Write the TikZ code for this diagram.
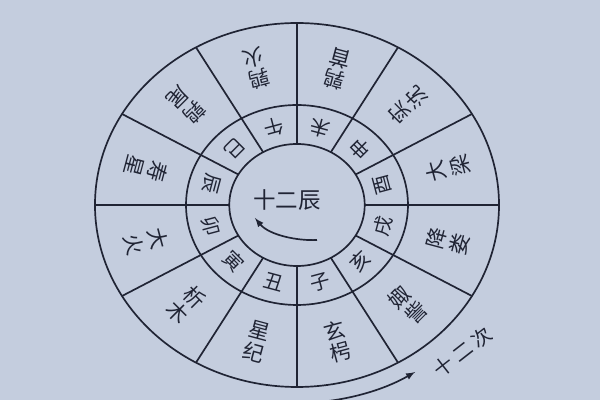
\documentclass[tikz,border=0pt]{standalone}
\usepackage{fontspec}
\newfontfamily\cjk{Noto Sans CJK SC}
\usepackage{tikz}
\usepackage{color}
\definecolor{paper}{RGB}{196,205,222}
\definecolor{ink}{RGB}{32,36,52}

\begin{document}
\begin{tikzpicture}[%
      x=0.025cm, y=0.025cm,
      chen/.style={color=ink, font=\cjk\fontsize{14}{14}\selectfont, inner sep=0pt},
      ci/.style={color=ink, font=\cjk\fontsize{15}{15}\selectfont, inner sep=0pt},
      ]
      \useasboundingbox (-297,-195) rectangle (303,205);
      \fill [color=paper] (-297,-195) rectangle (303,205);

      \begin{scope}[xscale=1.11]
      \draw [color=ink, line width=1.2pt, solid] (0,0) circle (182);
      \draw [color=ink, line width=1.2pt, solid] (0,0) circle (100);
      \draw [color=ink, line width=1.2pt, solid] (0,0) circle (61);

      \draw [color=ink, line width=1.2pt] (0:61) -- (0:182);
      \draw [color=ink, line width=1.2pt] (30:61) -- (30:182);
      \draw [color=ink, line width=1.2pt] (60:61) -- (60:182);
      \draw [color=ink, line width=1.2pt] (90:61) -- (90:182);
      \draw [color=ink, line width=1.2pt] (120:61) -- (120:182);
      \draw [color=ink, line width=1.2pt] (150:61) -- (150:182);
      \draw [color=ink, line width=1.2pt] (180:61) -- (180:182);
      \draw [color=ink, line width=1.2pt] (210:61) -- (210:182);
      \draw [color=ink, line width=1.2pt] (240:61) -- (240:182);
      \draw [color=ink, line width=1.2pt] (270:61) -- (270:182);
      \draw [color=ink, line width=1.2pt] (300:61) -- (300:182);
      \draw [color=ink, line width=1.2pt] (330:61) -- (330:182);

      % twelve branches
      \node [chen, rotate=15] (zi) at (285:80) {子};
      \node [chen, rotate=45] (hai) at (315:80) {亥};
      \node [chen, rotate=75] (xu) at (345:80) {戌};
      \node [chen, rotate=105] (you) at (15:80) {酉};
      \node [chen, rotate=135] (shen) at (45:80) {申};
      \node [chen, rotate=165] (wei) at (75:80) {未};
      \node [chen, rotate=195] (wu) at (105:80) {午};
      \node [chen, rotate=225] (si) at (135:80) {巳};
      \node [chen, rotate=255] (chenz) at (165:80) {辰};
      \node [chen, rotate=285] (mao) at (195:80) {卯};
      \node [chen, rotate=315] (yin) at (225:80) {寅};
      \node [chen, rotate=345] (chou) at (255:80) {丑};

      % twelve stations, inner char then outer char
      \node [ci, rotate=15] (xuan) at (285:130) {玄};
      \node [ci, rotate=15] (xiao) at (285:152) {枵};
      \node [ci, rotate=45] (ju) at (315:130) {娵};
      \node [ci, rotate=45] (zi2) at (315:152) {訾};
      \node [ci, rotate=75] (jiang) at (345:130) {降};
      \node [ci, rotate=75] (lou) at (345:152) {娄};
      \node [ci, rotate=105] (da1) at (15:130) {大};
      \node [ci, rotate=105] (liang) at (15:152) {梁};
      \node [ci, rotate=135] (shi) at (45:130) {实};
      \node [ci, rotate=135] (shen2) at (45:152) {沈};
      \node [ci, rotate=165] (chun1) at (75:130) {鹑};
      \node [ci, rotate=165] (shou1) at (75:152) {首};
      \node [ci, rotate=195] (chun2) at (105:130) {鹑};
      \node [ci, rotate=195] (huo1) at (105:152) {火};
      \node [ci, rotate=225] (chun3) at (135:130) {鹑};
      \node [ci, rotate=225] (wei2) at (135:152) {尾};
      \node [ci, rotate=255] (shou2) at (165:130) {寿};
      \node [ci, rotate=255] (xing1) at (165:152) {星};
      \node [ci, rotate=285] (da2) at (195:130) {大};
      \node [ci, rotate=285] (huo2) at (195:152) {火};
      \node [ci, rotate=315] (xi) at (225:130) {析};
      \node [ci, rotate=315] (mu) at (225:152) {木};
      \node [ci, rotate=345] (xing2) at (255:130) {星};
      \node [ci, rotate=345] (ji) at (255:152) {纪};

      \draw [color=ink, line width=1.2pt, -latex] (-86:198) arc (-86:-57.5:198);
      \end{scope}

      \node [color=ink, font=\cjk\fontsize{16}{16}\selectfont] (shierchen) at (-10,5) {十二辰};
      \draw [color=ink, line width=1.2pt, -latex] (20,-35) .. controls (0,-36) and (-28,-30) .. (-42,-13);

      \node [color=ink, font=\cjk\fontsize{14}{14}\selectfont, rotate=38] (shierci) at (166,-147) {十\hspace{3pt}二\hspace{3pt}次};
\end{tikzpicture}
\end{document}
